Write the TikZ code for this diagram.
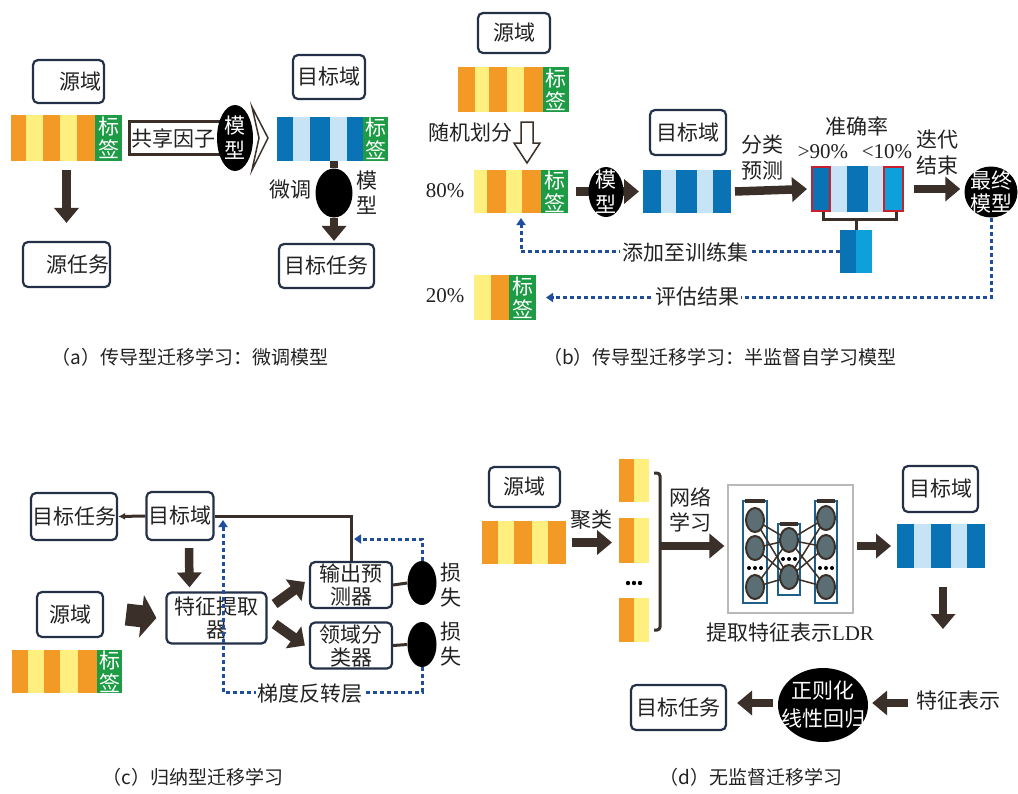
\documentclass[tikz,border=0pt]{standalone}
\usepackage{fontspec}
\setmainfont{Liberation Serif}
\newfontfamily\cjk{Noto Sans CJK SC}
\usetikzlibrary{arrows.meta,shapes.geometric,calc}
\definecolor{org}{HTML}{F39A26}
\definecolor{yel}{HTML}{FFEF7F}
\definecolor{grn}{HTML}{1E9B45}
\definecolor{dkb}{HTML}{0A73B5}
\definecolor{ltb}{HTML}{C6E4F5}
\definecolor{brb}{HTML}{0EA0DA}
\definecolor{arrc}{HTML}{3B3029}
\definecolor{boxc}{HTML}{243047}
\definecolor{dotc}{HTML}{1F4E9C}
\definecolor{txtc}{HTML}{222222}
\definecolor{redc}{HTML}{C8202F}
\definecolor{netc}{HTML}{5A6E73}
\definecolor{colc}{HTML}{1E5F8C}
\newcommand\stripe[5]{\fill[#5] (#1,#3) rectangle (#2,#4);}
\begin{document}
\begin{tikzpicture}[x=1pt,y=-1pt,
  box/.style={draw=boxc, line width=2.2pt, rounded corners=5pt, fill=white, inner sep=0pt,
     font=\cjk\fontsize{21}{23}\selectfont, text=txtc, align=center},
  lab/.style={font=\cjk\fontsize{21}{25}\selectfont, text=txtc, inner sep=0pt, align=center},
  num/.style={font=\fontsize{21}{25}\selectfont, text=txtc, inner sep=0pt},
  blk/.style={ellipse, fill=black, inner sep=0pt},
  wtxt/.style={font=\cjk\fontsize{21}{25}\selectfont, text=white, inner sep=0pt, align=center},
  tag/.style={font=\cjk\fontsize{21}{23}\selectfont, text=white, inner sep=0pt, align=center},
  area/.style={inner sep=0pt, outer sep=0pt},
  fat/.style={draw=arrc, line width=8.5pt, -{Triangle[width=24pt,length=15pt]}},
  dots/.style={draw=dotc, line width=3pt, dash pattern=on 4pt off 3pt},
  dtip/.style={-{Triangle[width=9pt,length=7pt]}},
  capt/.style={font=\cjk\fontsize{19}{22}\selectfont, text=txtc, inner sep=0pt},
  thin/.style={draw=arrc, line width=3pt},
  neu/.style={ellipse, fill=netc, draw=arrc, line width=2pt, minimum width=18pt, minimum height=24pt, inner sep=0pt},
  col/.style={draw=colc, line width=2pt}
]
\fill[white] (0,0) rectangle (1018,793);
\useasboundingbox (0,0) rectangle (1018,793);

%%%%%%%%%%%%%%%% (a)
\node[box, minimum width=71pt, minimum height=43pt] (aSrc) at (68.5,81.5) {\hspace*{24pt}源域};
\stripe{11}{26}{115}{161}{org}\stripe{26}{43}{115}{161}{yel}\stripe{43}{60}{115}{161}{org}
\stripe{60}{77}{115}{161}{yel}\stripe{77}{95}{115}{161}{org}\stripe{95}{122}{115}{161}{grn}
\node[area, minimum width=111pt, minimum height=46pt] (aS) at (66.5,138) {};
\node[tag] at (108.5,138) {标\\签};
\node[box, minimum width=87pt, minimum height=45pt] (aTask) at (66.5,264.5) {\hspace*{22pt}源任务};
\draw[fat] ([yshift=-9pt]aS.south) -- ([yshift=18pt]aTask.north);

\node[draw=arrc, line width=2.5pt, fill=white, minimum width=94pt, minimum height=33pt, lab, anchor=west] (aShare) at ([xshift=6pt]aS.east) {共享因子\hspace*{6pt}};
\node[blk, minimum width=36pt, minimum height=66pt] (aM1) at (235,138) {};
\node[wtxt] at (aM1) {模\\型};
\draw[arrc, fill=white, line width=1.5pt] (252,107) -- (268,138) -- (252,170) -- (259,138) -- cycle;

\node[box, minimum width=72pt, minimum height=44pt] (aTgt) at (329,77) {目标域};
\stripe{277}{293}{117}{161}{dkb}\stripe{293}{310}{117}{161}{ltb}\stripe{310}{330}{117}{161}{dkb}
\stripe{330}{347}{117}{161}{ltb}\stripe{347}{363}{117}{161}{dkb}\stripe{363}{388}{117}{161}{grn}
\node[area, minimum width=111pt, minimum height=44pt] (aT) at (332.5,139) {};
\node[tag] at (375.5,139) {标\\签};
\node[blk, minimum width=37pt, minimum height=49pt] (aM2) at (334,193) {};
\draw[arrc, line width=8pt] (aT.south -| aM2.north) -- (aM2.north);
\node[box, minimum width=95pt, minimum height=44pt] (aTaskT) at (326.5,266) {目标任务};
\draw[fat] (aM2.south) -- ([yshift=2pt]aM2.south |- aTaskT.north);
\node[lab] at (290,190) {微调};
\node[lab] at (367,193) {模\\型};
\node[capt] at (190,357) {（a）传导型迁移学习：微调模型};

%%%%%%%%%%%%%%%% (b)
\node[box, minimum width=72pt, minimum height=40pt] (bSrc) at (514,33) {源域};
\stripe{458}{475}{67}{112}{org}\stripe{475}{489}{67}{112}{yel}\stripe{489}{507}{67}{112}{org}
\stripe{507}{524}{67}{112}{yel}\stripe{524}{543}{67}{112}{org}\stripe{543}{569}{67}{112}{grn}
\node[area, minimum width=111pt, minimum height=45pt] (bS) at (513.5,89.5) {};
\node[tag] at (556,89.5) {标\\签};
\draw[arrc, fill=white, line width=1.5pt] (521,122) -- (533,122) -- (533,143) -- (540,143) -- (527,163) -- (514,143) -- (521,143) -- cycle;
\node[lab] at (470,133) {随机划分};

\node[num] at (445,191) {80\%};
\stripe{474}{487}{170}{213}{yel}\stripe{487}{506}{170}{213}{org}\stripe{506}{522}{170}{213}{yel}
\stripe{522}{541}{170}{213}{org}\stripe{541}{568}{170}{213}{grn}
\node[area, minimum width=94pt, minimum height=43pt] (b80) at (521,191.5) {};
\node[tag] at (554.5,191.5) {标\\签};

\stripe{643}{661}{170}{213}{dkb}\stripe{661}{676}{170}{213}{ltb}\stripe{676}{697}{170}{213}{dkb}
\stripe{697}{713}{170}{213}{ltb}\stripe{713}{731}{170}{213}{dkb}
\node[area, minimum width=88pt, minimum height=43pt] (bT) at (687,191.5) {};
\draw[fat] ([xshift=8pt]b80.east) -- ([xshift=-4pt]bT.west);
\node[blk, minimum width=35pt, minimum height=50pt] (bM) at (606,192) {};
\node[wtxt] at (bM) {模\\型};
\node[box, minimum width=76pt, minimum height=45pt] (bTgt) at (688,132.5) {目标域};

\node[lab] at (762,145) {分类};
\node[lab] at (762,171) {预测};
\node[lab] at (857,126) {准确率};
\node[num] at (823,152) {>90\%};
\node[num] at (887,152) {<10\%};

\filldraw[fill=dkb, draw=redc, line width=2pt] (812,167) rectangle (830,211);
\stripe{831}{847}{166}{212}{ltb}\stripe{847}{868}{166}{212}{dkb}\stripe{868}{883}{166}{212}{ltb}
\filldraw[fill=brb, draw=redc, line width=2pt] (884,167) rectangle (903,211);
\node[area, minimum width=93pt, minimum height=46pt] (bR) at (857.5,189) {};
\draw[fat] ([xshift=4pt]bT.east) -- ([xshift=-4pt]bR.west);

\stripe{840}{856}{230}{273}{dkb}\stripe{856}{872}{230}{273}{brb}
\node[area, minimum width=32pt, minimum height=43pt] (bSm) at (856,251.5) {};
\draw[thin] (823,212) -- (823,219) -- (896,219) -- (896,212);
\draw[thin] (bSm.north |- 0,219) -- (bSm.north);

\node[lab] at (937,140) {迭代};
\node[lab] at (937,166) {结束};
\node[blk, minimum width=53pt, minimum height=51pt] (bF) at (991,192) {};
\node[wtxt, font=\cjk\fontsize{21}{23}\selectfont] at (bF) {最终\\模型};
\draw[fat] ([xshift=10pt]bR.east) -- ([xshift=-4pt]bR.east -| bF.west);

\draw[dots, dtip] (bSm.west) -| ([yshift=-5pt]b80.south);
\node[lab, fill=white, inner xsep=2pt] at (685,252) {添加至训练集};

\node[num] at (445,296) {20\%};
\stripe{474}{491}{275}{320}{yel}\stripe{491}{509}{275}{320}{org}\stripe{509}{536}{275}{320}{grn}
\node[area, minimum width=62pt, minimum height=45pt] (b20) at (505,297.5) {};
\node[tag] at (522.5,297.5) {标\\签};
\draw[dots, dtip] (bF.south) |- ([xshift=10pt]b20.east);
\node[lab, fill=white, inner xsep=2pt] at (697,297) {评估结果};
\node[capt] at (720,357) {（b）传导型迁移学习：半监督自学习模型};

%%%%%%%%%%%%%%%% (c)
\node[box, minimum width=86pt, minimum height=47pt] (cTask) at (74,516.5) {目标任务};
\node[box, minimum width=67pt, minimum height=48pt] (cDom) at (180,516) {目标域};
\node[box, minimum width=66pt, minimum height=45pt] (cSrc) at (70,614.5) {源域};
\node[box, minimum width=100pt, minimum height=51pt] (cFE) at (216.5,618) {特征提取\\器};
\node[box, minimum width=82pt, minimum height=46pt] (cOut) at (351,585) {输出预\\测器};
\node[box, minimum width=82pt, minimum height=46pt] (cCls) at (351,645.5) {领域分\\类器};
\draw[thin, -{Latex[length=7pt,width=7pt]}] (cDom.west) -- (cTask.east);
\draw[thin] (cDom.east) -| (cOut.north);
\draw[fat] ([xshift=9pt,yshift=-7pt]cDom.south) -- ([xshift=-27pt,yshift=4pt]cFE.north);
\draw[arrc, line width=22pt, -{Triangle[width=42pt,length=15pt]}] ([xshift=22pt]cSrc.east) -- ([xshift=-9pt]cFE.west);
\draw[arrc, line width=10pt, -{Triangle[width=26pt,length=14pt]}] ([xshift=7pt,yshift=14pt]cFE.east) -- ([xshift=-4pt,yshift=3pt]cOut.west);
\draw[arrc, line width=10pt, -{Triangle[width=26pt,length=14pt]}] ([xshift=7pt,yshift=-6pt]cFE.east) -- ([xshift=-4pt]cCls.west);
\node[blk, minimum width=29pt, minimum height=44pt] (cE1) at (422,583) {};
\node[blk, minimum width=29pt, minimum height=45pt] (cE2) at (422,644.5) {};
\draw[thin] (cOut.east) -- (cE1.west);
\draw[thin] (cCls.east) -- (cE2.west);
\node[lab] at (451,585.5) {损\\失};
\node[lab] at (451,644.5) {损\\失};
\coordinate (cJ1) at (223,520);
\coordinate (cB) at (223,692);
\coordinate (cJ2) at (354,539);
\draw[dots, dtip] (cE2.south) |- (cB) -- (cJ1);
\draw[dots, dtip] (cE1.north) |- (cJ2);
\node[lab, fill=white, inner xsep=2pt] at (310,694) {梯度反转层};
\stripe{12}{28}{650}{693}{org}\stripe{28}{44}{650}{693}{yel}\stripe{44}{60}{650}{693}{org}
\stripe{60}{78}{650}{693}{yel}\stripe{78}{97}{650}{693}{org}\stripe{97}{122}{650}{693}{grn}
\node[tag] at (109.5,671.5) {标\\签};
\node[capt] at (193,777) {（c）归纳型迁移学习};

%%%%%%%%%%%%%%%% (d)
\node[box, minimum width=71pt, minimum height=40pt] (dSrc) at (524.5,487) {源域};
\stripe{482}{498}{521}{564}{org}\stripe{498}{514}{521}{564}{yel}\stripe{514}{532}{521}{564}{org}
\stripe{532}{548}{521}{564}{yel}\stripe{548}{566}{521}{564}{org}
\node[area, minimum width=84pt, minimum height=43pt] (dS) at (524,542.5) {};
\node[lab] at (591,520) {聚类};
\stripe{619}{634}{459}{502}{org}\stripe{634}{649}{459}{502}{yel}
\stripe{619}{634}{518}{563}{org}\stripe{634}{649}{518}{563}{yel}
\stripe{619}{634}{598}{642}{org}\stripe{634}{649}{598}{642}{yel}
\node[area, minimum width=30pt, minimum height=45pt] (dC2) at (634,540.5) {};
\fill[black] (628,583) circle (2.2) (634,583) circle (2.2) (640,583) circle (2.2);
\draw[fat] ([xshift=6pt]dS.east) -- ([xshift=-7pt]dS.east -| dC2.west);
\draw[thin, rounded corners=3pt] (654,473) -- (660,473) -- (660,630) -- (654,630);
\node[lab] at (690,497) {网络};
\node[lab] at (690,522) {学习};
\node[draw=gray!55, line width=1.2pt, minimum width=125pt, minimum height=128pt, inner sep=0pt] (dNet) at (790.5,549) {};
\coordinate (dBr) at (660,546);
\draw[fat] (dBr) -- ([xshift=-3pt]dBr -| dNet.west);
% network internals
\draw[col] (743,501) rectangle (767,603);
\draw[col] (778,524) rectangle (800,595);
\draw[col] (815,501) rectangle (837,603);
\draw[arrc, line width=4pt] (745,501) -- (765,501) (780,524) -- (798,524) (817,501) -- (835,501);
\foreach \a in {520,548,587} \foreach \b in {540,577} \draw[arrc, line width=1.5pt] (755,\a) -- (789,\b);
\foreach \a in {518,547,587} \foreach \b in {540,577} \draw[arrc, line width=1.5pt] (826,\a) -- (789,\b);
\foreach \y in {520,548,587} \node[neu] at (755,\y) {};
\foreach \y in {540,577} \node[neu] at (789,\y) {};
\foreach \y in {518,547,587} \node[neu] at (826,\y) {};
\fill[black] (749,568) circle (2) (755,568) circle (2) (761,568) circle (2);
\fill[black] (783,559) circle (2) (789,559) circle (2) (795,559) circle (2);
\fill[black] (820,568) circle (2) (826,568) circle (2) (832,568) circle (2);
\node[lab] at (790,633) {提取特征表示{\rmfamily LDR}};

\node[box, minimum width=75pt, minimum height=46pt] (dTgt) at (940.5,489) {目标域};
\stripe{897}{914}{524}{568}{dkb}\stripe{914}{931}{524}{568}{ltb}\stripe{931}{951}{524}{568}{dkb}
\stripe{951}{967}{524}{568}{ltb}\stripe{967}{985}{524}{568}{dkb}
\node[area, minimum width=88pt, minimum height=44pt] (dT) at (941,546) {};
\draw[fat] ($(dNet.east |- dT.west)+(3,0)$) -- ([xshift=-6pt]dT.west);
\coordinate (dDn) at (943,629);
\draw[fat] ([xshift=2pt,yshift=-19pt]dT.south) -- (dDn);
\node[lab] (dFeat) at (958,700) {特征表示};
\node[blk, minimum width=90pt, minimum height=74pt] (dReg) at (823,705) {};
\node[wtxt, font=\cjk\fontsize{21}{28}\selectfont] at (dReg) {正则化\\线性回归};
\node[box, minimum width=95pt, minimum height=45pt] (dTask) at (678.5,707.5) {目标任务};
\draw[fat] ($(dFeat.west)+(-8,3)$) -- ($(dReg.east)+(4,-2)$);
\draw[fat] ($(dReg.west)+(-5,-2)$) -- ($(dTask.east)+(10,-4.5)$);
\node[capt] at (751,777) {（d）无监督迁移学习};
\end{tikzpicture}
\end{document}
